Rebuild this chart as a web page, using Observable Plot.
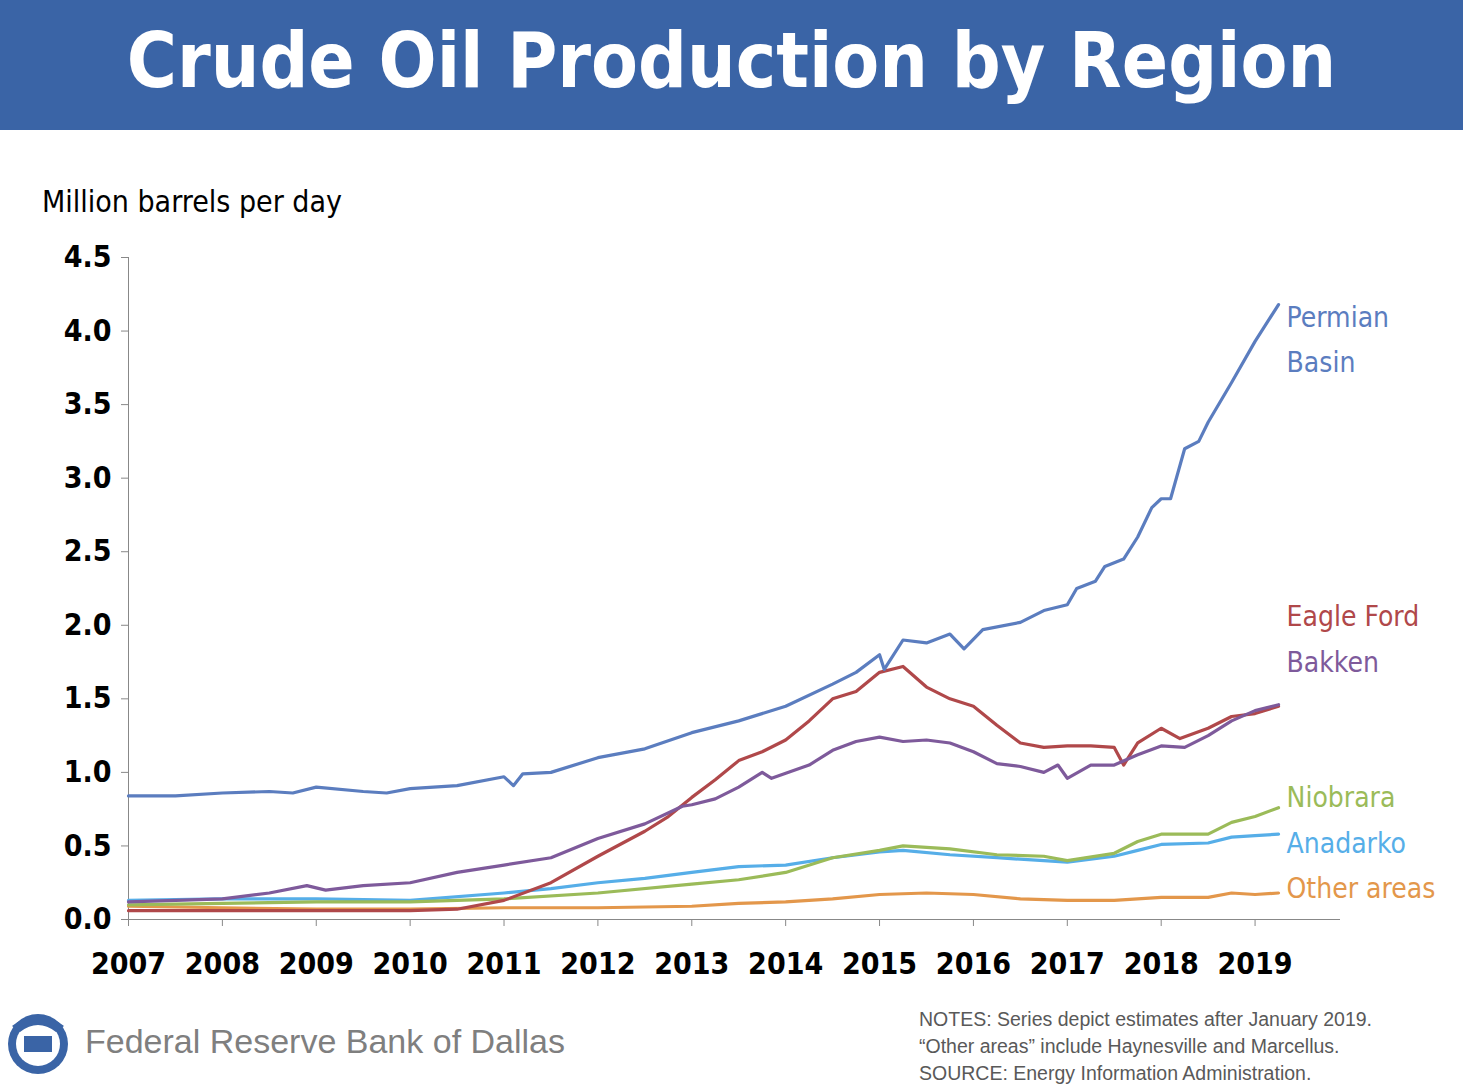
<!DOCTYPE html>
<html><head><meta charset="utf-8">
<script src="https://cdn.jsdelivr.net/npm/d3@7"></script>
<script src="https://cdn.jsdelivr.net/npm/@observablehq/plot@0.6"></script>
<style>
body{margin:0;width:1463px;height:1092px;position:relative;background:#fff;font-family:"DejaVu Sans Condensed","DejaVu Sans",sans-serif;overflow:hidden}
#hdr{position:absolute;left:0;top:0;width:1463px;height:130px;background:#3A64A6;color:#fff;font:bold 76px "DejaVu Sans Condensed","DejaVu Sans",sans-serif;text-align:center;line-height:122px}
#unit{position:absolute;left:42px;top:184px;font-size:30px;color:#000}
#chart{position:absolute;left:0;top:140px}
#fed{position:absolute;left:85px;top:1022px;font:34px "Liberation Sans",sans-serif;color:#7f7f7f}
#logo{position:absolute;left:6px;top:1006px;width:64px;height:72px}
#notes{position:absolute;left:919px;top:1006px;font:19.5px "Liberation Sans",sans-serif;color:#595959;line-height:27px}
</style></head><body>
<div id="hdr">Crude Oil Production by Region</div>
<div id="unit">Million barrels per day</div>
<div id="chart"></div>
<svg id="logo" viewBox="0 0 64 72"><circle cx="32" cy="38" r="30" fill="#3A64A6"/><circle cx="32" cy="38" r="22" fill="#fff"/><rect x="18" y="30" width="28" height="16" fill="#3A64A6"/><path d="M6 20 Q32 0 58 20 L50 26 Q32 12 14 26Z" fill="#3A64A6"/></svg>
<div id="fed">Federal Reserve Bank of Dallas</div>
<div id="notes">NOTES: Series depict estimates after January 2019.<br>“Other areas” include Haynesville and Marcellus.<br>SOURCE: Energy Information Administration.</div>
<script>
const permianT=[2007,2007.5,2008,2008.5,2008.75,2009,2009.5,2009.75,2010,2010.5,2011,2011.1,2011.2,2011.5,2012,2012.5,2013,2013.5,2014,2014.5,2014.75,2015,2015.05,2015.25,2015.5,2015.75,2015.9,2016.1,2016.5,2016.75,2017,2017.1,2017.3,2017.4,2017.6,2017.75,2017.9,2018,2018.1,2018.25,2018.4,2018.5,2018.75,2019,2019.1,2019.25];
const permianV=[0.84,0.84,0.86,0.87,0.86,0.90,0.87,0.86,0.89,0.91,0.97,0.91,0.99,1.00,1.10,1.16,1.27,1.35,1.45,1.60,1.68,1.80,1.70,1.90,1.88,1.94,1.84,1.97,2.02,2.10,2.14,2.25,2.30,2.40,2.45,2.60,2.80,2.86,2.86,3.20,3.25,3.38,3.65,3.93,4.03,4.18];
const eagleT=[2007,2008,2009,2010,2010.5,2011,2011.5,2012,2012.5,2012.75,2013,2013.25,2013.5,2013.75,2014,2014.25,2014.5,2014.75,2015,2015.25,2015.5,2015.75,2016,2016.25,2016.5,2016.75,2017,2017.25,2017.5,2017.6,2017.75,2018,2018.2,2018.5,2018.75,2019,2019.25];
const eagleV=[0.06,0.06,0.06,0.06,0.07,0.13,0.25,0.43,0.60,0.70,0.83,0.95,1.08,1.14,1.22,1.35,1.50,1.55,1.68,1.72,1.58,1.50,1.45,1.32,1.20,1.17,1.18,1.18,1.17,1.05,1.20,1.30,1.23,1.30,1.38,1.40,1.45];
const bakkenT=[2007,2008,2008.5,2008.9,2009.1,2009.5,2010,2010.5,2011,2011.5,2012,2012.5,2012.9,2013,2013.25,2013.5,2013.75,2013.85,2014.25,2014.5,2014.75,2015,2015.25,2015.5,2015.75,2016,2016.25,2016.5,2016.75,2016.9,2017,2017.25,2017.5,2017.75,2018,2018.25,2018.5,2018.75,2019,2019.25];
const bakkenV=[0.12,0.14,0.18,0.23,0.20,0.23,0.25,0.32,0.37,0.42,0.55,0.65,0.77,0.78,0.82,0.90,1.00,0.96,1.05,1.15,1.21,1.24,1.21,1.22,1.20,1.14,1.06,1.04,1.00,1.05,0.96,1.05,1.05,1.12,1.18,1.17,1.25,1.35,1.42,1.46];
const niobT=[2007,2008,2009,2010,2011,2012,2013,2013.5,2014,2014.5,2015,2015.25,2015.75,2016.25,2016.75,2017,2017.5,2017.75,2018,2018.5,2018.75,2019,2019.25];
const niobV=[0.10,0.11,0.12,0.12,0.14,0.18,0.24,0.27,0.32,0.42,0.47,0.50,0.48,0.44,0.43,0.40,0.45,0.53,0.58,0.58,0.66,0.70,0.76];
const anaT=[2007,2008,2009,2010,2011,2011.5,2012,2012.5,2013,2013.5,2014,2014.5,2015,2015.25,2015.75,2016.25,2016.75,2017,2017.5,2017.75,2018,2018.5,2018.75,2019,2019.25];
const anaV=[0.13,0.14,0.14,0.13,0.18,0.21,0.25,0.28,0.32,0.36,0.37,0.42,0.46,0.47,0.44,0.42,0.40,0.39,0.43,0.47,0.51,0.52,0.56,0.57,0.58];
const otherT=[2007,2008,2009,2010,2011,2012,2013,2013.5,2014,2014.5,2015,2015.5,2016,2016.5,2017,2017.5,2018,2018.5,2018.75,2019,2019.25];
const otherV=[0.09,0.08,0.07,0.07,0.08,0.08,0.09,0.11,0.12,0.14,0.17,0.18,0.17,0.14,0.13,0.13,0.15,0.15,0.18,0.17,0.18];
const seriesNames=["Permian Basin","Eagle Ford","Bakken","Niobrara","Anadarko","Other areas"];
const colors=["#5B7DBF","#B0484A","#7E5A9B","#9BBB59","#56AEE8","#E3974B"];
const labelY=[3.97,2.09,1.78,0.86,0.55,0.245];
const labelText=["Permian\nBasin","Eagle Ford","Bakken","Niobrara","Anadarko","Other areas"];
const yearTicks=d3.range(2007,2020);
const yTicks=d3.range(0,4.51,0.5);

const sets=[[permianT,permianV],[eagleT,eagleV],[bakkenT,bakkenV],[niobT,niobV],[anaT,anaV],[otherT,otherV]];
const data=sets.flatMap(([t,v],i)=>t.map((x,j)=>({x,y:v[j],s:seriesNames[i]})));
const labels=seriesNames.map((s,i)=>({s,y:labelY[i],t:labelText[i],x:2019.25}));
const order=[5,4,3,1,2,0].map(i=>seriesNames[i]);
const plot=Plot.plot({
  width:1463,height:860,marginLeft:128,marginRight:123,marginTop:117,marginBottom:81,
  style:{fontFamily:'"DejaVu Sans Condensed","DejaVu Sans",sans-serif',background:"none"},
  x:{domain:[2007,2019.91],label:null},
  y:{domain:[0,4.5],label:null},
  marks:[
    Plot.axisX({ticks:yearTicks,tickFormat:d=>String(d),fontSize:30,fontWeight:"bold",tickSize:7,tickPadding:26,stroke:"#888",fill:"#000",label:null}),
    Plot.axisY({ticks:yTicks,tickFormat:d3.format(".1f"),fontSize:30,fontWeight:"bold",tickSize:7,tickPadding:10,stroke:"#888",fill:"#000",label:null}),
    Plot.ruleY([0],{stroke:"#888"}),
    Plot.ruleX([2007],{stroke:"#888"}),
    ...order.map(s=>Plot.line(data.filter(d=>d.s===s),{x:"x",y:"y",stroke:colors[seriesNames.indexOf(s)],strokeWidth:3.2})),
    Plot.text(labels,{x:"x",y:"y",text:"t",fill:d=>colors[seriesNames.indexOf(d.s)],dx:8,textAnchor:"start",fontSize:28,lineHeight:1.6})
  ]
});
document.getElementById("chart").appendChild(plot);
</script></body></html>
